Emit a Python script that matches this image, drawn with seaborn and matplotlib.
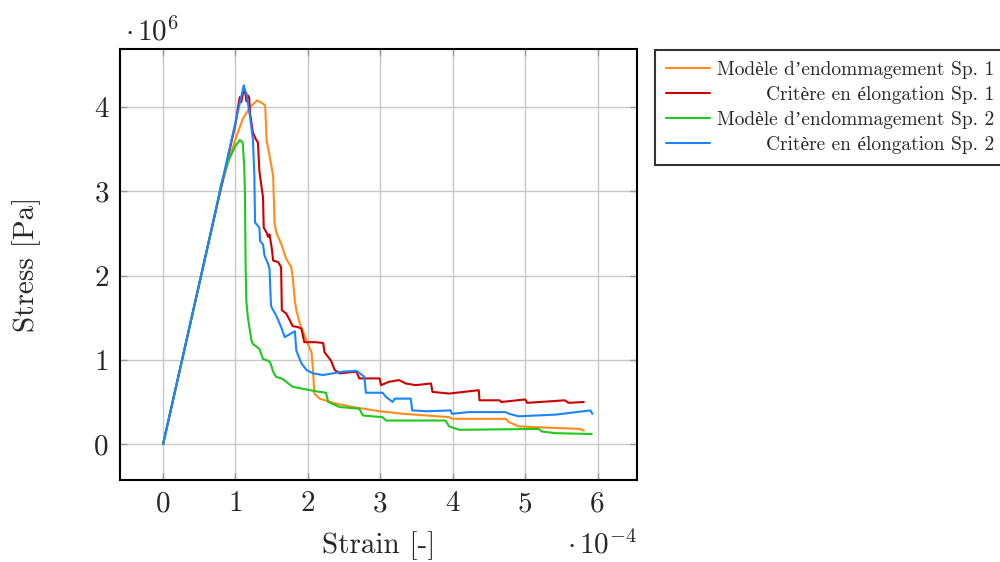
import numpy as np
import pandas as pd
import matplotlib
matplotlib.use("Agg")
import matplotlib.pyplot as plt
import seaborn as sns

# ---- data (strain in 1e-4, stress in 1e6 Pa) ----
labels = ["Modèle d’endommagement Sp. 1", "Critère en élongation Sp. 1",
          "Modèle d’endommagement Sp. 2", "Critère en élongation Sp. 2"]
colors = ["#ff8c1a", "#cc0000", "#1ec81e", "#1a85ff"]

orange_x = [0, 0.78, 0.90, 1.00, 1.10, 1.20, 1.30, 1.38, 1.41, 1.43, 1.48, 1.52, 1.54, 1.57,
            1.63, 1.70, 1.77, 1.79, 1.82, 1.84, 1.89, 2.00, 2.05, 2.07, 2.09, 2.16, 2.39, 2.62,
            2.99, 3.31, 3.95, 3.99, 4.73, 4.78, 4.91, 5.19, 5.76, 5.81]
orange_y = [0, 2.98, 3.35, 3.62, 3.86, 4.00, 4.08, 4.04, 4.02, 3.60, 3.38, 3.18, 2.61, 2.50,
            2.38, 2.20, 2.10, 1.98, 1.70, 1.59, 1.43, 1.19, 1.09, 0.88, 0.60, 0.54, 0.48, 0.44,
            0.39, 0.36, 0.32, 0.30, 0.30, 0.26, 0.21, 0.20, 0.18, 0.16]

red_x = [0, 1.00, 1.04, 1.06, 1.08, 1.10, 1.13, 1.15, 1.17, 1.19, 1.20, 1.24, 1.26, 1.28, 1.31,
         1.33, 1.36, 1.38, 1.39, 1.43, 1.45, 1.47, 1.50, 1.52, 1.59, 1.63, 1.64, 1.70, 1.75,
         1.79, 1.86, 1.91, 1.95, 2.11, 2.21, 2.23, 2.32, 2.37, 2.44, 2.55, 2.67, 2.71, 2.99,
         3.01, 3.12, 3.26, 3.35, 3.49, 3.70, 3.72, 3.95, 4.36, 4.37, 4.65, 4.67, 5.00, 5.03,
         5.55, 5.60, 5.81]
red_y = [0, 3.80, 4.03, 4.12, 4.06, 4.15, 4.21, 4.07, 4.14, 4.11, 3.93, 3.70, 3.66, 3.62, 3.58,
         3.24, 3.05, 2.93, 2.57, 2.51, 2.46, 2.49, 2.33, 2.18, 2.16, 2.10, 1.59, 1.55, 1.47,
         1.40, 1.39, 1.37, 1.21, 1.21, 1.20, 1.09, 0.99, 0.88, 0.84, 0.85, 0.86, 0.78, 0.78,
         0.70, 0.74, 0.76, 0.72, 0.70, 0.72, 0.62, 0.60, 0.64, 0.52, 0.52, 0.50, 0.53, 0.49,
         0.52, 0.49, 0.50]

green_x = [0, 0.72, 0.80, 0.90, 1.00, 1.06, 1.10, 1.12, 1.13, 1.14, 1.15, 1.17, 1.22, 1.24,
           1.33, 1.38, 1.45, 1.48, 1.52, 1.56, 1.66, 1.70, 1.79, 1.97, 2.16, 2.25, 2.28, 2.44,
           2.71, 2.76, 3.03, 3.08, 3.90, 3.95, 4.09, 5.19, 5.23, 5.42, 5.92]
green_y = [0, 2.74, 3.08, 3.36, 3.54, 3.61, 3.58, 3.30, 3.00, 2.10, 1.70, 1.51, 1.23, 1.19,
           1.13, 1.01, 0.99, 0.97, 0.86, 0.80, 0.77, 0.74, 0.68, 0.65, 0.62, 0.61, 0.50, 0.44,
           0.42, 0.34, 0.32, 0.28, 0.28, 0.21, 0.17, 0.18, 0.15, 0.13, 0.12]

blue_x = [0, 1.115, 1.13, 1.15, 1.20, 1.24, 1.26, 1.27, 1.31, 1.33, 1.34, 1.38, 1.40, 1.45,
          1.47, 1.49, 1.50, 1.56, 1.63, 1.68, 1.82, 1.84, 1.91, 1.98, 2.07, 2.21, 2.48, 2.67,
          2.78, 2.80, 3.03, 3.08, 3.17, 3.20, 3.42, 3.44, 3.65, 3.97, 3.99, 4.22, 4.73, 4.78,
          4.91, 5.42, 5.90, 5.93]
blue_y = [0, 4.26, 4.19, 4.17, 3.89, 3.62, 3.20, 2.63, 2.59, 2.57, 2.41, 2.37, 2.24, 2.14,
          2.08, 1.65, 1.62, 1.53, 1.39, 1.27, 1.34, 1.11, 0.96, 0.88, 0.84, 0.82, 0.86, 0.87,
          0.80, 0.61, 0.61, 0.56, 0.50, 0.54, 0.54, 0.40, 0.39, 0.40, 0.36, 0.38, 0.38, 0.36,
          0.33, 0.35, 0.40, 0.36]

xticks = [0, 1, 2, 3, 4, 5, 6]
yticks = [0, 1, 2, 3, 4]

series = [(orange_x, orange_y), (red_x, red_y), (green_x, green_y), (blue_x, blue_y)]
frames = []
for lab, (xs, ys) in zip(labels, series):
    frames.append(pd.DataFrame({"strain": xs, "stress": ys, "series": lab}))
df = pd.concat(frames, ignore_index=True)

# ---- style ----
sns.set_style("white")
plt.rcParams["font.family"] = ["cmr10", "Liberation Serif"]
plt.rcParams["mathtext.fontset"] = "cm"
plt.rcParams["axes.formatter.use_mathtext"] = True
plt.rcParams["axes.unicode_minus"] = False

fig = plt.figure(figsize=(10, 5.62), dpi=100)
ax = fig.add_axes([0.12, 0.1459, 0.517, 0.7669])

sns.lineplot(data=df, x="strain", y="stress", hue="series", hue_order=labels,
             palette=colors, sort=False, estimator=None, linewidth=1.5, ax=ax)

ax.set_xlim(-0.595, 6.545)
ax.set_ylim(-0.426, 4.69)
ax.set_xticks(xticks)
ax.set_yticks(yticks)
ax.set_xticklabels([str(v) for v in xticks])
ax.set_yticklabels([str(v) for v in yticks])
ax.grid(True, color="#c8c8c8", linewidth=1.0)
ax.set_axisbelow(True)
for s in ax.spines.values():
    s.set_color("black")
    s.set_linewidth(1.5)
ax.tick_params(axis="both", which="major", direction="in", length=5, width=1,
               color="#999999", labelsize=21, pad=8,
               top=True, right=True, bottom=True, left=True)
ax.set_xlabel("Strain [-]", fontsize=21, labelpad=10)
ax.set_ylabel("Stress [Pa]", fontsize=21, labelpad=38)

ax.text(0.01, 1.005, r"$\cdot\,10^{6}$", transform=ax.transAxes,
        ha="left", va="bottom", fontsize=21)
ax.text(1.0, -0.151, r"$\cdot\,10^{-4}$", transform=ax.transAxes,
        ha="right", va="center", fontsize=21)

handles, labs = ax.get_legend_handles_labels()
leg = ax.legend(handles, labs, loc="upper left", bbox_to_anchor=(0.655, 0.911),
                bbox_transform=fig.transFigure, fontsize=14, frameon=True,
                fancybox=False, edgecolor="black", handlelength=2.3,
                handletextpad=0.36, labelspacing=0.37, borderpad=0.55, borderaxespad=0)
leg.get_frame().set_linewidth(1.5)
for line in leg.get_lines():
    line.set_linewidth(1.5)

# right-align legend labels
fig.canvas.draw()
renderer = fig.canvas.get_renderer()
texts = leg.get_texts()
widths = [t.get_window_extent(renderer).width for t in texts]
maxw = max(widths)
for t, w in zip(texts, widths):
    t.set_position((maxw - w, 0))

fig.savefig("out.png", dpi=100)
